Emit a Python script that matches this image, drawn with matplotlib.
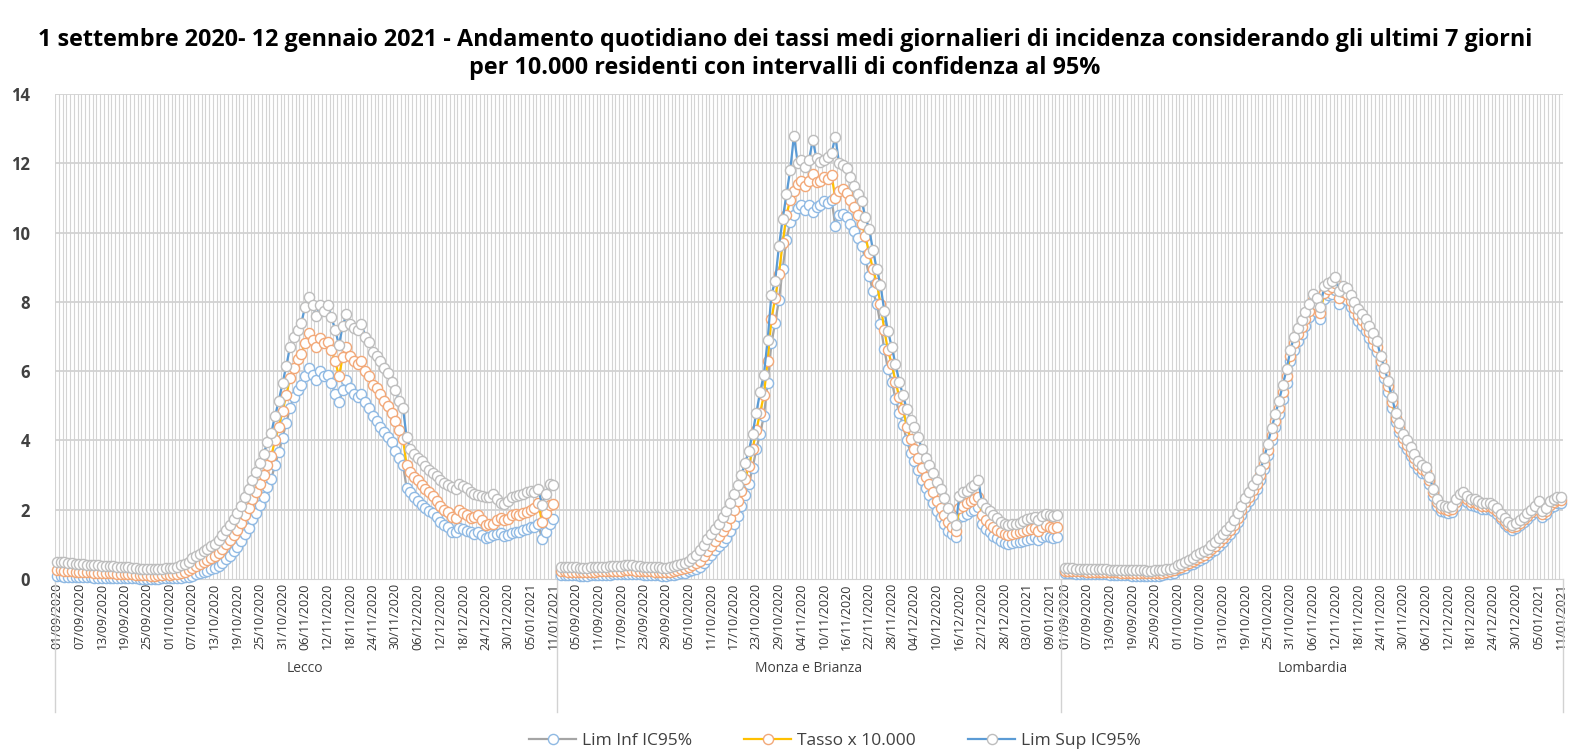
import numpy as np
import matplotlib
matplotlib.use('Agg')
import matplotlib.pyplot as plt
from matplotlib.lines import Line2D

plt.rcParams['font.family'] = ['Open Sans', 'DejaVu Sans']

title_1 = ('1 settembre 2020- 12 gennaio 2021 - Andamento quotidiano dei tassi medi giornalieri di incidenza '
           'considerando gli ultimi 7 giorni')
title_2 = 'per 10.000 residenti con intervalli di confidenza al 95%'
groups = ['Lecco', 'Monza e Brianza', 'Lombardia']
series_names = ['Lim Inf IC95%', 'Tasso x 10.000', 'Lim Sup IC95%']

# tick labels shown under each group (every 6th day)
lecco_ticks = ['01/09/2020', '07/09/2020', '13/09/2020', '19/09/2020', '25/09/2020', '01/10/2020',
               '07/10/2020', '13/10/2020', '19/10/2020', '25/10/2020', '31/10/2020', '06/11/2020',
               '12/11/2020', '18/11/2020', '24/11/2020', '30/11/2020', '06/12/2020', '12/12/2020',
               '18/12/2020', '24/12/2020', '30/12/2020', '05/01/2021', '11/01/2021']
monza_ticks = ['05/09/2020', '11/09/2020', '17/09/2020', '23/09/2020', '29/09/2020', '05/10/2020',
               '11/10/2020', '17/10/2020', '23/10/2020', '29/10/2020', '04/11/2020', '10/11/2020',
               '16/11/2020', '22/11/2020', '28/11/2020', '04/12/2020', '10/12/2020', '16/12/2020',
               '22/12/2020', '28/12/2020', '03/01/2021', '09/01/2021']
lomb_ticks = list(lecco_ticks)

# daily values 01/09/2020 - 11/01/2021 (133 days)
lecco_tasso = [0.26, 0.25, 0.24, 0.23, 0.22, 0.21, 0.21, 0.20, 0.19, 0.19,
               0.18, 0.18, 0.17, 0.17, 0.16, 0.16, 0.15, 0.15, 0.14, 0.14,
               0.13, 0.12, 0.12, 0.11, 0.11, 0.10, 0.10, 0.11, 0.12, 0.13,
               0.12, 0.13, 0.15, 0.17, 0.20, 0.25, 0.32, 0.37, 0.43, 0.49,
               0.55, 0.60, 0.66, 0.75, 0.87, 1.00, 1.12, 1.27, 1.42, 1.62,
               1.85, 2.05, 2.30, 2.50, 2.75, 3.00, 3.30, 3.55, 4.00, 4.40,
               4.85, 5.30, 5.80, 6.10, 6.35, 6.50, 6.80, 7.10, 6.90, 6.70,
               6.95, 6.80, 6.85, 6.60, 6.30, 5.85, 6.40, 6.70, 6.45, 6.30,
               6.20, 6.30, 6.00, 5.85, 5.60, 5.50, 5.35, 5.15, 5.00, 4.80,
               4.55, 4.30, 4.05, 3.30, 3.10, 2.95, 2.85, 2.70, 2.60, 2.50,
               2.40, 2.25, 2.10, 2.00, 1.93, 1.80, 1.75, 2.00, 1.90, 1.85,
               1.75, 1.78, 1.84, 1.70, 1.56, 1.58, 1.60, 1.70, 1.75, 1.70,
               1.72, 1.85, 1.89, 1.84, 1.90, 1.93, 1.98, 2.05, 2.20, 1.65,
               1.90, 2.15, 2.17]
lecco_sup = [0.50, 0.49, 0.48, 0.46, 0.45, 0.44, 0.44, 0.42, 0.41, 0.41,
             0.40, 0.39, 0.38, 0.38, 0.37, 0.37, 0.36, 0.35, 0.34, 0.34,
             0.32, 0.31, 0.30, 0.29, 0.29, 0.28, 0.28, 0.29, 0.30, 0.31,
             0.31, 0.33, 0.36, 0.39, 0.43, 0.50, 0.60, 0.66, 0.73, 0.80,
             0.87, 0.94, 1.02, 1.12, 1.26, 1.42, 1.56, 1.72, 1.90, 2.12,
             2.38, 2.60, 2.86, 3.08, 3.35, 3.62, 3.95, 4.22, 4.70, 5.15,
             5.65, 6.15, 6.70, 7.00, 7.20, 7.40, 7.85, 8.15, 7.90, 7.60,
             7.90, 7.75, 7.90, 7.55, 7.20, 6.75, 7.30, 7.65, 7.35, 7.25,
             7.20, 7.35, 7.00, 6.85, 6.55, 6.45, 6.30, 6.10, 5.95, 5.70,
             5.45, 5.15, 4.95, 4.10, 3.75, 3.60, 3.50, 3.40, 3.25, 3.15,
             3.05, 2.97, 2.85, 2.78, 2.70, 2.65, 2.60, 2.73, 2.68, 2.64,
             2.50, 2.45, 2.42, 2.40, 2.36, 2.38, 2.45, 2.30, 2.20, 2.17,
             2.25, 2.36, 2.40, 2.42, 2.45, 2.50, 2.54, 2.50, 2.60, 2.15,
             2.45, 2.75, 2.70]
lecco_inf = [0.08, 0.08, 0.07, 0.07, 0.06, 0.06, 0.06, 0.05, 0.05, 0.05,
             0.04, 0.04, 0.04, 0.04, 0.03, 0.03, 0.03, 0.03, 0.02, 0.02,
             0.02, 0.02, 0.01, 0.01, 0.01, 0.01, 0.01, 0.01, 0.02, 0.02,
             0.02, 0.02, 0.03, 0.04, 0.05, 0.07, 0.10, 0.13, 0.16, 0.20,
             0.24, 0.28, 0.32, 0.38, 0.47, 0.57, 0.67, 0.80, 0.93, 1.10,
             1.30, 1.48, 1.72, 1.90, 2.13, 2.37, 2.65, 2.88, 3.30, 3.67,
             4.08, 4.50, 4.95, 5.25, 5.45, 5.60, 5.85, 6.10, 5.90, 5.75,
             6.00, 5.85, 5.90, 5.65, 5.35, 5.10, 5.45, 5.75, 5.50, 5.35,
             5.25, 5.35, 5.10, 4.95, 4.70, 4.55, 4.40, 4.25, 4.10, 3.95,
             3.70, 3.50, 3.30, 2.64, 2.50, 2.36, 2.25, 2.15, 2.05, 1.97,
             1.90, 1.80, 1.65, 1.55, 1.50, 1.37, 1.35, 1.48, 1.45, 1.40,
             1.37, 1.30, 1.35, 1.28, 1.18, 1.20, 1.28, 1.30, 1.32, 1.23,
             1.28, 1.32, 1.37, 1.37, 1.42, 1.45, 1.50, 1.50, 1.60, 1.15,
             1.35, 1.60, 1.72]

monza_tasso = [0.22, 0.22, 0.21, 0.21, 0.21, 0.20, 0.20, 0.20, 0.21, 0.21,
               0.22, 0.22, 0.23, 0.23, 0.24, 0.24, 0.24, 0.25, 0.25, 0.25,
               0.24, 0.24, 0.23, 0.22, 0.22, 0.21, 0.21, 0.20, 0.20, 0.21,
               0.23, 0.25, 0.28, 0.31, 0.35, 0.40, 0.46, 0.52, 0.65, 0.80,
               0.95, 1.10, 1.25, 1.40, 1.52, 1.75, 2.00, 2.25, 2.55, 2.90,
               3.25, 3.75, 4.30, 4.80, 5.30, 6.30, 7.50, 8.10, 8.80, 9.70,
               10.50, 10.95, 11.20, 11.40, 11.50, 11.35, 11.50, 11.70, 11.45, 11.50,
               11.60, 11.55, 11.65, 11.00, 11.20, 11.25, 11.15, 10.95, 10.75, 10.50,
               10.25, 9.90, 9.40, 8.95, 8.55, 7.95, 7.20, 6.60, 6.20, 5.70,
               5.25, 4.90, 4.40, 4.05, 3.75, 3.50, 3.20, 2.95, 2.75, 2.50,
               2.25, 2.05, 1.85, 1.65, 1.50, 1.40, 2.05, 2.10, 2.18, 2.24,
               2.30, 2.38, 1.85, 1.70, 1.60, 1.50, 1.42, 1.35, 1.30, 1.28,
               1.30, 1.32, 1.35, 1.38, 1.42, 1.45, 1.48, 1.40, 1.50, 1.55,
               1.50, 1.48, 1.50]
monza_sup = [0.36, 0.35, 0.34, 0.34, 0.34, 0.33, 0.33, 0.33, 0.34, 0.34,
             0.35, 0.35, 0.36, 0.37, 0.38, 0.38, 0.38, 0.39, 0.39, 0.39,
             0.38, 0.37, 0.36, 0.35, 0.35, 0.34, 0.34, 0.33, 0.33, 0.34,
             0.37, 0.39, 0.43, 0.47, 0.52, 0.60, 0.70, 0.85, 0.97, 1.15,
             1.30, 1.45, 1.60, 1.78, 1.95, 2.20, 2.45, 2.72, 3.00, 3.35,
             3.70, 4.20, 4.80, 5.40, 5.90, 6.90, 8.20, 8.60, 9.60, 10.40,
             11.10, 11.80, 12.80, 12.00, 12.10, 11.90, 12.10, 12.67, 12.14, 12.05,
             12.10, 12.19, 12.30, 12.76, 12.00, 11.95, 11.85, 11.60, 11.33, 11.10,
             10.90, 10.45, 10.10, 9.50, 8.95, 8.50, 7.75, 7.15, 6.70, 6.20,
             5.70, 5.30, 4.90, 4.60, 4.40, 4.10, 3.75, 3.50, 3.30, 3.05,
             2.80, 2.60, 2.35, 2.05, 1.80, 1.55, 2.40, 2.50, 2.55, 2.65,
             2.70, 2.85, 2.20, 2.05, 1.95, 1.85, 1.75, 1.65, 1.58, 1.55,
             1.58, 1.60, 1.62, 1.68, 1.72, 1.75, 1.80, 1.70, 1.82, 1.88,
             1.85, 1.83, 1.85]
monza_inf = [0.12, 0.12, 0.11, 0.11, 0.11, 0.10, 0.10, 0.10, 0.11, 0.11,
             0.12, 0.12, 0.12, 0.12, 0.13, 0.13, 0.13, 0.14, 0.14, 0.14,
             0.13, 0.13, 0.12, 0.11, 0.11, 0.11, 0.11, 0.10, 0.10, 0.11,
             0.12, 0.14, 0.16, 0.18, 0.22, 0.26, 0.30, 0.35, 0.46, 0.58,
             0.70, 0.83, 0.95, 1.08, 1.18, 1.38, 1.60, 1.82, 2.10, 2.42,
             2.75, 3.20, 3.75, 4.20, 4.70, 5.65, 6.80, 7.40, 8.05, 8.95,
             9.80, 10.30, 10.50, 10.70, 10.80, 10.65, 10.80, 10.60, 10.75, 10.80,
             10.90, 10.85, 10.95, 10.20, 10.50, 10.55, 10.45, 10.25, 10.05, 9.85,
             9.60, 9.25, 8.75, 8.30, 7.95, 7.35, 6.65, 6.05, 5.70, 5.20,
             4.80, 4.45, 4.00, 3.65, 3.40, 3.15, 2.85, 2.62, 2.42, 2.20,
             1.97, 1.78, 1.60, 1.40, 1.30, 1.20, 1.80, 1.82, 1.88, 1.95,
             2.00, 2.08, 1.60, 1.45, 1.35, 1.25, 1.18, 1.10, 1.05, 1.02,
             1.04, 1.06, 1.08, 1.10, 1.14, 1.16, 1.20, 1.12, 1.20, 1.25,
             1.20, 1.18, 1.20]

lomb_tasso = [0.24, 0.23, 0.23, 0.22, 0.22, 0.22, 0.21, 0.21, 0.21, 0.20,
              0.20, 0.20, 0.19, 0.19, 0.19, 0.18, 0.18, 0.18, 0.17, 0.17,
              0.17, 0.17, 0.16, 0.16, 0.17, 0.17, 0.18, 0.20, 0.22, 0.25,
              0.32, 0.36, 0.41, 0.47, 0.51, 0.58, 0.64, 0.70, 0.78, 0.87,
              0.95, 1.06, 1.18, 1.30, 1.42, 1.57, 1.77, 1.98, 2.21, 2.38,
              2.57, 2.75, 3.00, 3.32, 3.73, 4.17, 4.56, 4.95, 5.40, 5.85,
              6.45, 6.82, 7.06, 7.28, 7.50, 7.75, 8.05, 7.90, 7.68, 8.27,
              8.37, 8.42, 8.53, 8.12, 8.28, 8.23, 8.03, 7.83, 7.63, 7.48,
              7.33, 7.13, 6.93, 6.70, 6.29, 5.95, 5.56, 5.10, 4.66, 4.37,
              4.07, 3.87, 3.67, 3.48, 3.29, 3.17, 3.13, 2.85, 2.50, 2.21,
              2.06, 2.01, 1.99, 2.03, 2.21, 2.36, 2.43, 2.31, 2.23, 2.21,
              2.16, 2.11, 2.11, 2.10, 2.06, 1.96, 1.80, 1.68, 1.57, 1.49,
              1.54, 1.63, 1.72, 1.82, 1.92, 2.02, 2.15, 1.87, 1.97, 2.15,
              2.21, 2.29, 2.29]
lomb_sup = [0.32, 0.31, 0.31, 0.30, 0.30, 0.30, 0.29, 0.29, 0.29, 0.28,
            0.28, 0.28, 0.27, 0.27, 0.27, 0.26, 0.26, 0.26, 0.25, 0.25,
            0.25, 0.25, 0.24, 0.24, 0.25, 0.25, 0.26, 0.28, 0.30, 0.33,
            0.40, 0.44, 0.50, 0.56, 0.60, 0.68, 0.74, 0.80, 0.88, 0.98,
            1.06, 1.18, 1.30, 1.42, 1.54, 1.70, 1.90, 2.12, 2.35, 2.52,
            2.72, 2.90, 3.15, 3.48, 3.90, 4.35, 4.75, 5.15, 5.60, 6.05,
            6.60, 7.00, 7.24, 7.48, 7.70, 7.95, 8.24, 8.10, 7.86, 8.45,
            8.55, 8.60, 8.71, 8.30, 8.45, 8.40, 8.20, 8.00, 7.80, 7.65,
            7.50, 7.30, 7.10, 6.86, 6.45, 6.10, 5.71, 5.25, 4.80, 4.50,
            4.20, 4.00, 3.80, 3.60, 3.40, 3.28, 3.24, 2.95, 2.60, 2.30,
            2.15, 2.10, 2.08, 2.12, 2.30, 2.45, 2.52, 2.40, 2.32, 2.30,
            2.25, 2.20, 2.20, 2.19, 2.15, 2.05, 1.88, 1.76, 1.65, 1.57,
            1.62, 1.71, 1.80, 1.90, 2.00, 2.10, 2.24, 1.95, 2.05, 2.24,
            2.30, 2.38, 2.38]
lomb_inf = [0.17, 0.16, 0.16, 0.15, 0.15, 0.15, 0.14, 0.14, 0.14, 0.13,
            0.13, 0.13, 0.12, 0.12, 0.12, 0.11, 0.11, 0.11, 0.10, 0.10,
            0.10, 0.10, 0.09, 0.09, 0.10, 0.10, 0.11, 0.13, 0.15, 0.18,
            0.25, 0.29, 0.33, 0.39, 0.43, 0.49, 0.55, 0.61, 0.69, 0.77,
            0.85, 0.95, 1.07, 1.19, 1.31, 1.45, 1.65, 1.85, 2.08, 2.25,
            2.43, 2.61, 2.86, 3.17, 3.57, 4.00, 4.38, 4.76, 5.20, 5.65,
            6.28, 6.62, 6.86, 7.08, 7.30, 7.55, 7.86, 7.70, 7.50, 8.08,
            8.19, 8.24, 8.35, 7.94, 8.10, 8.06, 7.86, 7.66, 7.46, 7.31,
            7.16, 6.96, 6.76, 6.54, 6.13, 5.80, 5.41, 4.95, 4.52, 4.24,
            3.94, 3.74, 3.54, 3.36, 3.18, 3.06, 3.02, 2.75, 2.40, 2.12,
            1.97, 1.92, 1.90, 1.94, 2.12, 2.27, 2.34, 2.22, 2.14, 2.12,
            2.07, 2.02, 2.02, 2.01, 1.97, 1.87, 1.72, 1.60, 1.49, 1.41,
            1.46, 1.55, 1.64, 1.74, 1.84, 1.94, 2.06, 1.79, 1.89, 2.06,
            2.12, 2.20, 2.20]

panels = [
    (lecco_inf, lecco_tasso, lecco_sup, lecco_ticks, 0),
    (monza_inf, monza_tasso, monza_sup, monza_ticks, 4),
    (lomb_inf, lomb_tasso, lomb_sup, lomb_ticks, 0),
]

n_days = 133
offsets = [0, 134, 268]    # one empty category between groups
n_cat = 401

line_cols = ['#a5a5a5', '#ffc000', '#5b9bd5']
edge_cols = ['#8fb9e3', '#f2a878', '#bdbdbd']
txt_col = '#404040'

fig = plt.figure(figsize=(15.7, 7.5), dpi=100)
ax = fig.add_axes([55 / 1570, 171 / 750, 1508 / 1570, 485 / 750])
ax.set_xlim(-0.5, n_cat - 0.5)
ax.set_ylim(0, 14)

# category gridlines + value gridlines
ax.vlines(np.arange(-0.5, n_cat, 1), 0, 14, color='#d4d4d4', lw=0.8, zorder=0)
ax.hlines(np.arange(2, 15, 2), -0.5, n_cat - 0.5, color='#d2d2d2', lw=1.3, zorder=0.5)

tick_pos, tick_lab = [], []
for (inf, tasso, sup, ticks, first), off in zip(panels, offsets):
    x = off + np.arange(n_days)
    for vals, lc, ec in zip([inf, tasso, sup], line_cols, edge_cols):
        ax.plot(x, vals, color=lc, lw=1.6, marker='o', ms=7.3, mfc='white', mec=ec, mew=1.0,
                clip_on=False, zorder=3)
    tick_pos += [off + first + 6 * k for k in range(len(ticks))]
    tick_lab += ticks

ax.set_xticks(tick_pos)
ax.set_xticklabels(tick_lab, rotation=90, fontsize=9, color='#333333')
ax.set_yticks(np.arange(0, 15, 2))
ax.set_yticklabels([str(v) for v in range(0, 15, 2)], fontsize=12, fontweight='bold', color=txt_col)
ax.tick_params(axis='x', length=0, pad=3)
ax.tick_params(axis='y', length=0, pad=18)
for s in ['top', 'right', 'left']:
    ax.spines[s].set_visible(False)
ax.spines['bottom'].set_color('#d2d2d2')

# group labels and separators under the axis
trans = ax.get_xaxis_transform()
for g, off in zip(groups, offsets):
    ax.text(off + (n_days - 1) / 2, -0.184, g, transform=trans, ha='center', va='center',
            fontsize=10, color=txt_col)
for xs in [-0.5, 133, 267, n_cat - 0.5]:
    ax.plot([xs, xs], [0, -0.275], transform=trans, color='#d2d2d2', lw=1, clip_on=False)

fig.text(785 / 1570, 1 - 40 / 750, title_1, ha='center', va='center', fontsize=16.8,
         fontweight='bold', color='black')
fig.text(785 / 1570, 1 - 68 / 750, title_2, ha='center', va='center', fontsize=16.8,
         fontweight='bold', color='black')

handles = [Line2D([], [], color=lc, lw=1.6, marker='o', ms=7.3, mfc='white', mec=ec, mew=1.0)
           for lc, ec in zip(line_cols, edge_cols)]
fig.legend(handles, series_names, loc='center', bbox_to_anchor=(835 / 1570, 1 - 741 / 750),
           ncol=3, frameon=False, fontsize=12.5, handlelength=2.7, handletextpad=0.35,
           columnspacing=3.0, labelcolor=txt_col)

fig.savefig('out.png', dpi=100)
